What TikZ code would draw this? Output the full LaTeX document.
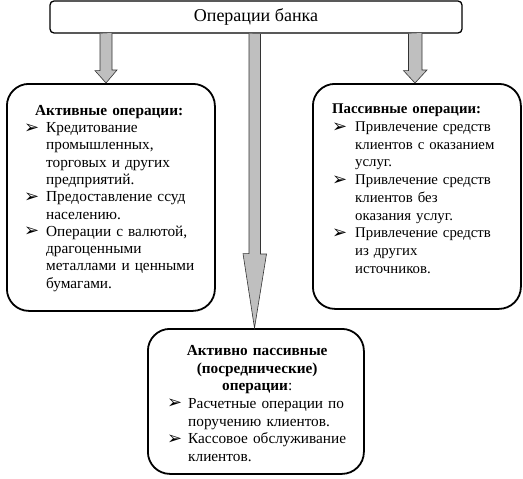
\documentclass[tikz,border=0pt]{standalone}
\usepackage{fontspec}
\setmainfont{Liberation Serif}
\newfontfamily\dejavu{DejaVu Sans}
\newcommand\bul{\raisebox{-0.5pt}[0pt][0pt]{\dejavu\fontsize{18}{18}\selectfont ➢}}
\newcommand\bitem[2]{{\hangindent=#1\hangafter=1\noindent\makebox[#1][l]{\bul}#2\par}}
\begin{document}
\begin{tikzpicture}[x=1pt,y=-1pt,
  bigbox/.style={draw, line width=1.8pt, rounded corners=22pt, anchor=north west, inner sep=0pt},
  txt/.style={anchor=north west, inner sep=0pt, align=left},
  blockarrow/.style={draw=black!80, line width=0.6pt, fill=black!25, line join=miter}]
\useasboundingbox (0,0) rectangle (523,479);
% top box
\node[draw, line width=1.3pt, rounded corners=4pt, minimum width=412pt, minimum height=32pt,
  inner sep=0pt, font=\fontsize{18}{20}\selectfont] (top) at (256,17) {Операции банка};
% boxes
\node[bigbox, minimum width=208pt, minimum height=227pt] (left) at (6,83) {};
\node[bigbox, minimum width=208pt, minimum height=225pt] (right) at (312,83) {};
\node[bigbox, minimum width=216pt, minimum height=145pt] (bottom) at (147,328) {};
% texts
\node[txt, text width=190pt, font=\fontsize{15.3}{17.3}\selectfont] (lt) at ([xshift=18pt,yshift=-22pt]left.north west) {%
  \noindent\makebox[170pt][c]{\textbf{Активные операции:}}\par
  \bitem{22pt}{Кредитование\newline промышленных,\newline торговых и других\newline предприятий.}
  \bitem{22pt}{Предоставление ссуд\newline населению.}
  \bitem{22pt}{Операции с валютой,\newline драгоценными\newline металлами и ценными\newline бумагами.}};
\node[txt, text width=190pt, font=\fontsize{14.8}{17.7}\selectfont] (rt) at ([xshift=20pt,yshift=-21pt]right.north west) {%
  \textbf{Пассивные операции:}\par
  \bitem{23pt}{Привлечение средств\newline клиентов с оказанием\newline услуг.}
  \bitem{23pt}{Привлечение средств\newline клиентов без\newline оказания услуг.}
  \bitem{23pt}{Привлечение средств\newline из других\newline источников.}};
\node[txt, text width=180pt, font=\fontsize{15.3}{17.7}\selectfont] (bt) at ([xshift=20pt,yshift=-17pt]bottom.north west) {%
  {\centering\textbf{Активно пассивные}\par\textbf{(посреднические)}\par\textbf{операции}:\par}
  \bitem{21pt}{Расчетные операции по\newline поручению клиентов.}
  \bitem{21pt}{Кассовое обслуживание\newline клиентов.}};
% block arrows
\coordinate (la) at (top.south -| 106,0);
\draw[blockarrow] (la) ++(-6,0) -- ++(0,37) -- ++(-5,0) -- (la |- left.north) -- ++(11,-13) -- ++(-5,0) -- ++(0,-37);
\coordinate (ra) at (top.south -| 415,0);
\draw[blockarrow] (ra) ++(-6.5,0) -- ++(0,37) -- ++(-5,0) -- (ra |- right.north) -- ++(12,-13) -- ++(-5,0) -- ++(0,-37);
\coordinate (ma) at (top.south -| 254.5,0);
\draw[blockarrow] (ma) ++(-5.5,0) -- ++(0,220) -- ++(-6,0) -- (ma |- bottom.north) -- ++(12,-74) -- ++(-6,0) -- ++(0,-220);
\end{tikzpicture}
\end{document}
